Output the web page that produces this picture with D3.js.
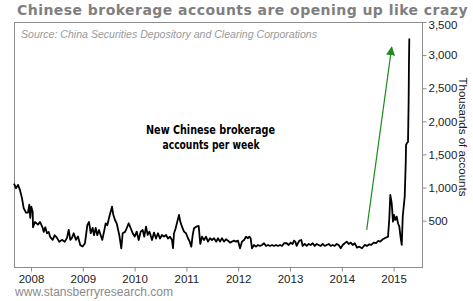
<!DOCTYPE html>
<html>
<head>
<meta charset="utf-8">
<script src="https://cdn.jsdelivr.net/npm/d3@7.9.0/dist/d3.min.js"></script>
<style>
  body { margin: 0; background: #fff; }
  svg { display: block; }
  .axis path, .axis line { stroke: #8c8c8c; }
  .axis text { font-family: "Liberation Sans", Arial, sans-serif; font-size: 11.5px; fill: #222; }
</style>
</head>
<body>
<svg id="chart" width="473" height="301"></svg>
<script>
// week positions as decimal years, values in thousands of new accounts
const weekYear = [
  2007.672, 2007.710, 2007.749, 2007.788, 2007.826, 2007.859, 2007.903, 2007.942, 2007.967, 2007.986,
  2008.006, 2008.033, 2008.039, 2008.077, 2008.135, 2008.174, 2008.226, 2008.245, 2008.276, 2008.309,
  2008.342, 2008.373, 2008.419, 2008.458, 2008.502, 2008.546, 2008.598, 2008.651, 2008.695, 2008.728,
  2008.759, 2008.792, 2008.824, 2008.869, 2008.907, 2008.952, 2008.998, 2009.042, 2009.087, 2009.120,
  2009.153, 2009.191, 2009.216, 2009.249, 2009.280, 2009.313, 2009.346, 2009.376, 2009.409, 2009.442,
  2009.473, 2009.512, 2009.564, 2009.589, 2009.622, 2009.654, 2009.705, 2009.743, 2009.770, 2009.815,
  2009.847, 2009.886, 2009.925, 2009.963, 2010.002, 2010.041, 2010.079, 2010.118, 2010.156, 2010.187,
  2010.220, 2010.253, 2010.284, 2010.297, 2010.336, 2010.375, 2010.413, 2010.452, 2010.490, 2010.529,
  2010.568, 2010.606, 2010.645, 2010.683, 2010.722, 2010.741, 2010.761, 2010.793, 2010.824, 2010.857,
  2010.882, 2010.915, 2010.954, 2010.992, 2011.031, 2011.064, 2011.095, 2011.122, 2011.147, 2011.191,
  2011.237, 2011.268, 2011.301, 2011.340, 2011.378, 2011.417, 2011.456, 2011.494, 2011.533, 2011.577,
  2011.610, 2011.649, 2011.687, 2011.726, 2011.764, 2011.803, 2011.842, 2011.880, 2011.919, 2011.958,
  2011.996, 2012.035, 2012.073, 2012.112, 2012.151, 2012.189, 2012.214, 2012.241, 2012.266, 2012.305,
  2012.344, 2012.382, 2012.421, 2012.459, 2012.498, 2012.537, 2012.575, 2012.614, 2012.653, 2012.691,
  2012.730, 2012.768, 2012.807, 2012.846, 2012.884, 2012.936, 2012.975, 2013.014, 2013.052, 2013.077,
  2013.102, 2013.129, 2013.154, 2013.180, 2013.218, 2013.245, 2013.284, 2013.322, 2013.361, 2013.400,
  2013.438, 2013.477, 2013.515, 2013.554, 2013.593, 2013.631, 2013.670, 2013.708, 2013.747, 2013.786,
  2013.824, 2013.863, 2013.902, 2013.940, 2013.979, 2014.017, 2014.056, 2014.095, 2014.133, 2014.172,
  2014.210, 2014.249, 2014.293, 2014.338, 2014.390, 2014.442, 2014.486, 2014.531, 2014.569, 2014.616,
  2014.660, 2014.699, 2014.743, 2014.790, 2014.828, 2014.867, 2014.892, 2014.917, 2014.936, 2014.963,
  2014.988, 2015.008, 2015.033, 2015.060, 2015.085, 2015.110, 2015.137, 2015.157, 2015.176, 2015.195,
  2015.214, 2015.226, 2015.234, 2015.240, 2015.259, 2015.278, 2015.290, 2015.297, 2015.303
];
const accounts = [
  1060, 990, 1040, 960, 840, 690, 620, 620, 740, 540,
  710, 630, 400, 480, 440, 480, 390, 330, 400, 310,
  330, 250, 210, 280, 240, 180, 210, 180, 240, 360,
  210, 240, 310, 210, 260, 130, 110, 160, 430, 480,
  310, 390, 280, 390, 280, 360, 280, 210, 330, 460,
  430, 560, 710, 590, 510, 460, 280, 80, 310, 330,
  385, 460, 385, 310, 260, 334, 208, 334, 359, 258,
  410, 284, 334, 310, 208, 320, 230, 310, 230, 284,
  258, 284, 230, 258, 208, 83, 310, 385, 485, 586,
  485, 409, 334, 310, 234, 183, 107, 284, 385, 409,
  420, 148, 258, 208, 258, 183, 234, 208, 234, 183,
  234, 183, 234, 183, 219, 198, 168, 183, 198, 183,
  198, 83, 183, 208, 258, 234, 258, 234, 83, 133,
  107, 133, 118, 133, 159, 118, 133, 118, 133, 118,
  133, 118, 133, 118, 159, 159, 133, 168, 148, 198,
  183, 118, 159, 198, 208, 118, 148, 118, 148, 133,
  159, 118, 148, 133, 118, 148, 118, 133, 148, 118,
  133, 118, 148, 133, 83, 133, 159, 183, 148, 168,
  133, 159, 92, 107, 83, 133, 118, 143, 133, 168,
  159, 193, 183, 219, 234, 249, 258, 536, 888, 763,
  485, 586, 510, 560, 460, 409, 234, 133, 560, 711,
  862, 1164, 1371, 1643, 1673, 1688, 2300, 2930, 3250
];
const yearTicks = [2008, 2009, 2010, 2011, 2012, 2013, 2014, 2015];
const valueTicks = [500, 1000, 1500, 2000, 2500, 3000, 3500];
const arrowFrom = [2014.48, 360];
const arrowTo = [2014.963, 3120];

const series = weekYear.map((t, i) => ({ t, v: accounts[i] }));

const svg = d3.select('#chart');
const plotLeft = 14, plotRight = 422, plotTop = 22, plotBottom = 267;

const x = d3.scaleLinear().domain([2007.672, 2015.548]).range([plotLeft, plotRight]);
const y = d3.scaleLinear().domain([-200, 3500]).range([plotBottom, plotTop]);

// title
svg.append('text')
  .attr('x', 17).attr('y', 14.5)
  .style('font-family', '"DejaVu Sans", Verdana, sans-serif')
  .style('font-weight', 'bold').style('font-size', '14px')
  .style('letter-spacing', '0.45px')
  .attr('fill', '#7f7f7f')
  .text('Chinese brokerage accounts are opening up like crazy');

// plot frame
svg.append('rect')
  .attr('x', plotLeft + 0.5).attr('y', plotTop + 0.5)
  .attr('width', plotRight - plotLeft).attr('height', plotBottom - plotTop)
  .attr('fill', 'none').attr('stroke', '#8c8c8c');

svg.append('text')
  .attr('x', 21).attr('y', 38)
  .attr('textLength', 296).attr('lengthAdjust', 'spacingAndGlyphs')
  .style('font-family', '"Liberation Sans", Arial, sans-serif')
  .style('font-style', 'italic').style('font-size', '10.5px')
  .attr('fill', '#999')
  .text('Source: China Securities Depository and Clearing Corporations');

// axes
svg.append('g')
  .attr('class', 'axis')
  .attr('transform', `translate(0,${plotBottom + 0.5})`)
  .call(d3.axisBottom(x).tickValues(yearTicks).tickFormat(d3.format('d')).tickSize(4).tickPadding(3))
  .call(g => g.select('.domain').remove());

svg.append('g')
  .attr('class', 'axis')
  .attr('transform', `translate(${plotRight + 0.5},0)`)
  .call(d3.axisRight(y).tickValues(valueTicks).tickFormat(d3.format(',')).tickSize(4).tickPadding(2))
  .call(g => g.select('.domain').remove())
  // top label sits a little low, clear of the title
  .call(g => g.selectAll('.tick text').filter(d => d === 3500).attr('y', 2.5));

svg.append('text')
  .attr('transform', 'translate(459,137) rotate(90)')
  .attr('text-anchor', 'middle')
  .style('font-family', '"Liberation Sans", Arial, sans-serif')
  .style('font-size', '11.5px')
  .attr('fill', '#1a1a2e')
  .text('Thousands of accounts');

// data line
const line = d3.line().x(d => x(d.t)).y(d => y(d.v));
svg.append('path')
  .datum(series)
  .attr('d', line)
  .attr('fill', 'none')
  .attr('stroke', '#000')
  .attr('stroke-width', 1.8)
  .attr('stroke-linejoin', 'round');

// annotation
const note = svg.append('text')
  .attr('text-anchor', 'middle')
  .style('font-family', '"DejaVu Sans", Verdana, sans-serif')
  .style('font-weight', 'bold').style('font-size', '11.5px')
  .attr('fill', '#000');
note.append('tspan').attr('x', 210.5).attr('y', 134)
  .attr('textLength', 129).attr('lengthAdjust', 'spacingAndGlyphs')
  .text('New Chinese brokerage');
note.append('tspan').attr('x', 211).attr('y', 149)
  .attr('textLength', 97).attr('lengthAdjust', 'spacingAndGlyphs')
  .text('accounts per week');

// green arrow
svg.append('defs').append('marker')
  .attr('id', 'head')
  .attr('viewBox', '0 0 10 10')
  .attr('refX', 9).attr('refY', 5)
  .attr('markerWidth', 9).attr('markerHeight', 9)
  .attr('markerUnits', 'userSpaceOnUse')
  .attr('orient', 'auto')
  .append('path').attr('d', 'M0,0L10,5L0,10Z').attr('fill', '#1e8c1e');

svg.append('line')
  .attr('x1', x(arrowFrom[0])).attr('y1', y(arrowFrom[1]))
  .attr('x2', x(arrowTo[0])).attr('y2', y(arrowTo[1]))
  .attr('stroke', '#1e8c1e').attr('stroke-width', 1.2)
  .attr('marker-end', 'url(#head)');

// footer
svg.append('text')
  .attr('x', 15).attr('y', 296)
  .attr('textLength', 158).attr('lengthAdjust', 'spacingAndGlyphs')
  .style('font-family', '"Liberation Sans", Arial, sans-serif')
  .style('font-size', '12px')
  .attr('fill', '#8a8a8a')
  .text('www.stansberryresearch.com');
</script>
</body>
</html>
